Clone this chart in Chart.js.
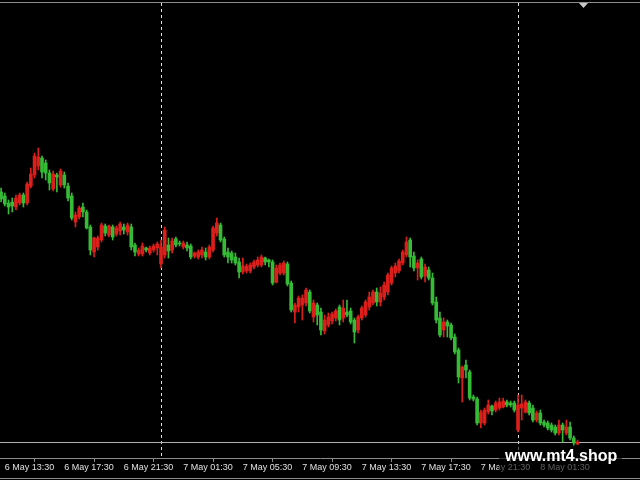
<!DOCTYPE html>
<html><head><meta charset="utf-8">
<script src="https://cdn.jsdelivr.net/npm/chart.js@4/dist/chart.umd.min.js"></script>
<style>html,body{margin:0;padding:0;background:#000;overflow:hidden}canvas{display:block}</style>
</head><body>
<canvas id="c" width="640" height="480"></canvas>
<script>
// M15 candles, 6 May 13:15 .. 8 May 03:45 (price in chart units)
const opens = [268,264,257,258,253,257,265,257,274,285, 294,302,297,287,271,285,275,285,274,264,
  238,243,253,248,233,208,213,220,234,225, 233,226,229,233,228,233,215,206,206,212,
  207,210,212,196,205,215,210,221,217,213, 215,214,204,203,205,208,203,210,227,235,
  221,208,207,203,198,188,189,189,193,195, 195,202,200,198,178,187,187,196,177,148,
  153,155,157,168,143,155,148,129,135,139, 142,153,142,148,149,140,130,142,145,153,
  157,168,158,163,168,177,187,189,197,205, 220,204,192,201,184,190,182,158,142,130,
  138,135,123,110,82,95,88,63,61,37, 37,48,54,50,52,53,58,57,57,30,
  52,48,57,52,40,47,38,37,35,33, 27,35,27,33,22,16];
const highs = [272,267,260,262,265,267,267,278,292,307, 312,304,300,290,289,287,291,288,277,267,
  248,254,257,250,235,223,224,237,236,235, 235,234,238,236,237,236,217,212,217,213,
  214,216,218,220,233,222,222,223,219,219, 218,216,208,210,213,212,215,234,242,237,
  223,212,209,207,202,202,196,197,200,203, 205,203,201,200,195,197,199,198,179,157,
  164,165,172,170,160,157,152,145,147,148, 151,155,160,160,152,142,145,154,160,168,
  170,172,173,178,187,194,197,201,210,223, 222,208,200,203,196,193,187,163,148,142,
  140,137,126,112,94,100,90,65,63,50, 52,60,55,59,62,62,60,59,59,65,
  65,60,59,55,49,50,40,39,37,35, 40,37,40,38,24,20];
const lows = [258,254,246,248,250,255,253,255,272,282, 290,282,280,270,269,268,273,272,259,240,
  233,241,243,231,205,203,210,218,224,223, 220,224,225,226,225,210,204,204,204,208,
  205,208,205,192,202,202,207,213,214,211, 209,201,202,201,202,200,201,208,224,218,
  203,197,197,195,182,186,187,187,191,193, 193,195,193,175,177,185,185,174,148,137,
  148,140,154,147,138,135,125,126,133,136, 139,135,138,143,136,117,127,140,143,150,
  155,154,154,160,165,175,183,187,195,203, 193,189,180,181,178,180,155,137,123,123,
  123,120,106,77,58,82,60,59,35,32, 35,46,45,48,50,52,53,53,48,28,
  40,47,45,38,38,35,33,30,28,25, 25,18,25,20,14,15];
const closes = [261,256,253,254,262,265,257,276,286,304, 303,288,287,277,286,283,289,275,262,242,
  245,252,248,232,210,222,222,235,227,234, 223,232,236,230,235,213,208,210,214,210,
  212,214,216,213,230,209,219,215,216,217, 212,203,207,208,210,203,213,232,237,220,
  205,203,200,197,188,194,194,195,198,200, 203,198,198,177,192,195,197,176,150,155,
  162,162,170,149,157,145,130,140,143,146, 149,140,152,145,138,128,143,152,158,163,
  168,158,167,175,185,192,194,199,208,218, 203,192,197,183,193,182,157,140,125,138,
  134,122,108,83,93,90,62,61,37,48, 50,55,49,57,58,59,55,55,50,55,
  56,58,47,40,47,37,35,32,30,27, 35,30,33,22,17,18];
const tickIndex = [1,17,33,49,65,81,97,113,129,145];
const tickLabels = ['6 May 13:30','6 May 17:30','6 May 21:30','7 May 01:30','7 May 05:30',
  '7 May 09:30','7 May 13:30','7 May 17:30','7 May 21:30','8 May 01:30'];
const daySeparators = [43, 139];

const UP = '#dc1f1b', DOWN = '#36bb36';
const colors = closes.map((c, i) => c >= opens[i] ? UP : DOWN);
const bodies = closes.map((c, i) => ({x: i, y: [opens[i], c]}));
const wicks = closes.map((c, i) => ({x: i, y: [lows[i], highs[i]]}));

const chrome = {
  id: 'chrome',
  beforeDatasetsDraw(chart) {
    const {ctx, chartArea: a, scales: {x, y}} = chart;
    ctx.save();
    ctx.lineWidth = 1;
    ctx.strokeStyle = '#e0e0e0';
    ctx.setLineDash([3, 3]);
    daySeparators.forEach(v => {
      const px = Math.round(x.getPixelForValue(v)) + 0.5;
      ctx.beginPath(); ctx.moveTo(px, a.top); ctx.lineTo(px, a.bottom); ctx.stroke();
    });
    ctx.setLineDash([]);
    const by = Math.round(y.getPixelForValue(closes[closes.length - 1])) + 0.5;
    ctx.strokeStyle = '#b0b0b0';
    ctx.beginPath(); ctx.moveTo(0, by); ctx.lineTo(640, by); ctx.stroke();
    ctx.restore();
  },
  afterDraw(chart) {
    const ctx = chart.ctx;
    ctx.save();
    ctx.strokeStyle = '#8c8c8c'; ctx.lineWidth = 1;
    ctx.beginPath(); ctx.moveTo(0, 2.5); ctx.lineTo(640, 2.5); ctx.stroke();
    ctx.beginPath(); ctx.moveTo(0, 478.5); ctx.lineTo(640, 478.5); ctx.stroke();
    ctx.fillStyle = '#c8c8c8';
    ctx.beginPath(); ctx.moveTo(579, 3); ctx.lineTo(588, 3); ctx.lineTo(583.5, 8); ctx.closePath(); ctx.fill();
    ctx.fillStyle = 'rgba(0,0,0,0.6)';
    ctx.fillRect(499, 445, 123, 31);
    ctx.fillStyle = '#ffffff';
    ctx.font = 'bold 16px "Liberation Sans", Arial, sans-serif';
    ctx.textBaseline = 'alphabetic'; ctx.textAlign = 'left';
    ctx.fillText('www.mt4.shop', 505, 461);
    ctx.restore();
  }
};

new Chart(document.getElementById('c'), {
  type: 'bar',
  data: {datasets: [
    {data: wicks, backgroundColor: colors, barThickness: 1, grouped: false, order: 2},
    {data: bodies, backgroundColor: colors, barThickness: 3, grouped: false, order: 1}
  ]},
  options: {
    responsive: false, animation: false, devicePixelRatio: 1,
    layout: {padding: {top: 3, left: 0, right: 0, bottom: 0}},
    plugins: {legend: {display: false}, tooltip: {enabled: false}},
    scales: {
      x: {
        type: 'linear', min: -0.296, max: 171.8, offset: false,
        afterBuildTicks: s => { s.ticks = tickIndex.map(v => ({value: v})); },
        afterFit: s => { s.height = 22; },
        ticks: {autoSkip: false, maxRotation: 0, minRotation: 0, align: 'start', padding: 0,
          color: '#e0e0e0', font: {family: '"Liberation Sans", Arial, sans-serif', size: 9},
          callback: (v, i) => tickLabels[i]},
        grid: {drawOnChartArea: false, drawTicks: true, tickLength: 4, color: '#8c8c8c'},
        border: {display: true, color: '#8c8c8c'}
      },
      y: {display: false, min: 2, max: 457}
    }
  },
  plugins: [chrome]
});
</script>
</body></html>
